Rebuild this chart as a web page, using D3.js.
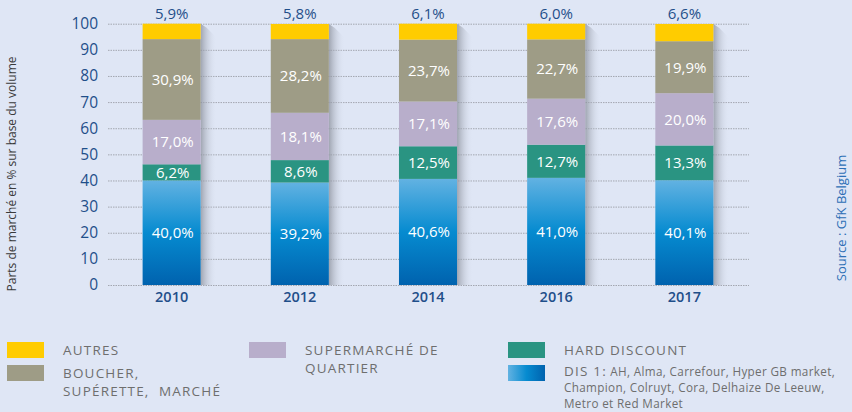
<!DOCTYPE html>
<html>
<head>
<meta charset="utf-8">
<script src="https://cdn.jsdelivr.net/npm/d3@7/dist/d3.min.js"></script>
<style>
  html, body { margin: 0; padding: 0; background: #dfe6f5; }
  svg { display: block; font-family: "Open Sans", "DejaVu Sans", sans-serif; }
</style>
</head>
<body>
<svg id="chart" width="852" height="412"></svg>
<script>
// Market shares by distribution channel (% of volume)
const years = ["2010", "2012", "2014", "2016", "2017"];
const dis1 = [40.0, 39.2, 40.6, 41.0, 40.1];
const hardDiscount = [6.2, 8.6, 12.5, 12.7, 13.3];
const supermarche = [17.0, 18.1, 17.1, 17.6, 20.0];
const boucher = [30.9, 28.2, 23.7, 22.7, 19.9];
const autres = [5.9, 5.8, 6.1, 6.0, 6.6];
const yTicks = [0, 10, 20, 30, 40, 50, 60, 70, 80, 90, 100];

const series = [
  { key: "dis1", values: dis1, fill: "url(#dis1Grad)" },
  { key: "hd", values: hardDiscount, fill: "#2a9482" },
  { key: "sup", values: supermarche, fill: "#b8aecb" },
  { key: "bou", values: boucher, fill: "#9e9c86" },
  { key: "aut", values: autres, fill: "#ffcc00" }
];

const svg = d3.select("#chart");
const defs = svg.append("defs");

const vGrad = defs.append("linearGradient").attr("id", "dis1Grad")
  .attr("x1", 0).attr("y1", 0).attr("x2", 0).attr("y2", 1);
vGrad.append("stop").attr("offset", "0%").attr("stop-color", "#62b2e2");
vGrad.append("stop").attr("offset", "50%").attr("stop-color", "#068bd0");
vGrad.append("stop").attr("offset", "100%").attr("stop-color", "#0062ae");

const hGrad = defs.append("linearGradient").attr("id", "dis1Legend")
  .attr("x1", 0).attr("y1", 0).attr("x2", 1).attr("y2", 0);
hGrad.append("stop").attr("offset", "0%").attr("stop-color", "#62b2e2");
hGrad.append("stop").attr("offset", "50%").attr("stop-color", "#068bd0");
hGrad.append("stop").attr("offset", "100%").attr("stop-color", "#0062ae");

const shGrad = defs.append("linearGradient").attr("id", "shadowGrad")
  .attr("x1", 0).attr("y1", 0).attr("x2", 1).attr("y2", 0);
shGrad.append("stop").attr("offset", "0%").attr("stop-color", "#8a8f9a").attr("stop-opacity", 0.75);
shGrad.append("stop").attr("offset", "100%").attr("stop-color", "#dfe6f5").attr("stop-opacity", 0);

const x = d3.scaleBand().domain(years).range([108, 748]).paddingInner(0.547).paddingOuter(0.27);
const y = d3.scaleLinear().domain([0, 100]).range([285, 23.7]);

// Grid lines
svg.append("g").selectAll("line").data(yTicks).join("line")
  .attr("x1", 108).attr("x2", 749)
  .attr("y1", d => y(d) + 0.5).attr("y2", d => y(d) + 0.5)
  .attr("stroke", "#a3a7b0").attr("stroke-width", 1)
  .attr("stroke-dasharray", "1.5,1");

// Y axis labels
const yAxis = d3.axisLeft(y).tickValues(yTicks).tickSize(0).tickPadding(0);
const gy = svg.append("g").attr("transform", "translate(98,0)").call(yAxis);
gy.select(".domain").remove();
gy.selectAll("text").attr("fill", "#1f4f8a").attr("font-size", 15.5)
  .attr("font-family", "'Open Sans', sans-serif");

// X axis labels
const xAxis = d3.axisBottom(x).tickSize(0).tickPadding(0);
const gx = svg.append("g").attr("transform", "translate(0,292)").call(xAxis);
gx.select(".domain").remove();
gx.selectAll("text").attr("fill", "#1f4f8a").attr("font-size", 14.5).attr("font-weight", 600)
  .attr("font-family", "'Open Sans', sans-serif");

// Bar shadows
const totals = years.map((_, i) => d3.sum(series, s => s.values[i]));
svg.append("g").selectAll("path").data(years).join("path")
  .attr("d", (d, i) => {
    const x0 = x(d) + x.bandwidth();
    const top = y(totals[i]);
    const bot = y(0);
    return `M${x0},${top} L${x0 + 6},${top + 4} L${x0 + 16},${top + 14} L${x0 + 16},${bot} L${x0},${bot} Z`;
  })
  .attr("fill", "url(#shadowGrad)");

// Stacked bars
const stackData = years.map((yr, i) => {
  const o = { year: yr };
  series.forEach(s => o[s.key] = s.values[i]);
  return o;
});
const stacked = d3.stack().keys(series.map(s => s.key))(stackData);

const fmt = v => d3.format(".1f")(v).replace(".", ",") + "%";

stacked.forEach((layer, li) => {
  const s = series[li];
  const g = svg.append("g");
  g.selectAll("rect").data(layer).join("rect")
    .attr("x", d => x(d.data.year))
    .attr("width", x.bandwidth())
    .attr("y", d => y(d[1]))
    .attr("height", d => y(d[0]) - y(d[1]))
    .attr("fill", s.fill);
  if (s.key !== "aut") {
    g.selectAll("text").data(layer).join("text")
      .attr("x", d => x(d.data.year) + x.bandwidth() / 2 + 1)
      .attr("y", d => (y(d[0]) + y(d[1])) / 2)
      .attr("dy", "0.36em")
      .attr("text-anchor", "middle")
      .attr("fill", "#ffffff")
      .attr("font-size", 15)
      .text(d => fmt(d[1] - d[0]));
  } else {
    g.selectAll("text").data(layer).join("text")
      .attr("x", d => x(d.data.year) + x.bandwidth() / 2)
      .attr("y", 19)
      .attr("text-anchor", "middle")
      .attr("fill", "#1f4f8a")
      .attr("font-size", 15)
      .text(d => fmt(d[1] - d[0]));
  }
});

// Axis title
svg.append("text")
  .attr("transform", "translate(16,174) rotate(-90)")
  .attr("text-anchor", "middle")
  .attr("fill", "#3a3a3a")
  .attr("font-size", 12)
  .text("Parts de marché en % sur base du volume");

// Source
svg.append("text")
  .attr("transform", "translate(846,218) rotate(-90)")
  .attr("text-anchor", "middle")
  .attr("fill", "#2d6fb6")
  .attr("font-size", 13)
  .text("Source : GfK Belgium");

// Legend
const legendItems = [
  { fill: "#ffcc00", x: 7, y: 342, lines: [["AUTRES"]] },
  { fill: "#9e9c86", x: 7, y: 365, lines: [["BOUCHER,"], ["SUPÉRETTE,\u00a0 MARCHÉ"]] },
  { fill: "#b8aecb", x: 249, y: 342, lines: [["SUPERMARCHÉ DE"], ["QUARTIER"]] },
  { fill: "#2a9482", x: 508, y: 342, lines: [["HARD DISCOUNT"]] },
  { fill: "url(#dis1Legend)", x: 508, y: 365,
    lines: [["DIS 1:", " AH, Alma, Carrefour, Hyper GB market,"],
            ["", "Champion, Colruyt, Cora, Delhaize De Leeuw,"],
            ["", "Metro et Red Market"]] }
];

const lg = svg.append("g");
legendItems.forEach(item => {
  lg.append("rect").attr("x", item.x).attr("y", item.y)
    .attr("width", 37).attr("height", 16).attr("fill", item.fill);
  const multi = item.lines.length > 2;
  item.lines.forEach((ln, k) => {
    const t = lg.append("text")
      .attr("x", item.x + 56)
      .attr("y", item.y + (multi ? 11 : 13) + k * (multi ? 16 : 18))
      .attr("fill", "#6e6e6e");
    t.append("tspan").attr("font-size", 13.5).attr("letter-spacing", 1.2).text(ln[0]);
    if (ln[1] !== undefined) {
      t.append("tspan").attr("font-size", 11.7).attr("letter-spacing", 0.35).text(ln[1]);
    }
  });
});
</script>
</body>
</html>
